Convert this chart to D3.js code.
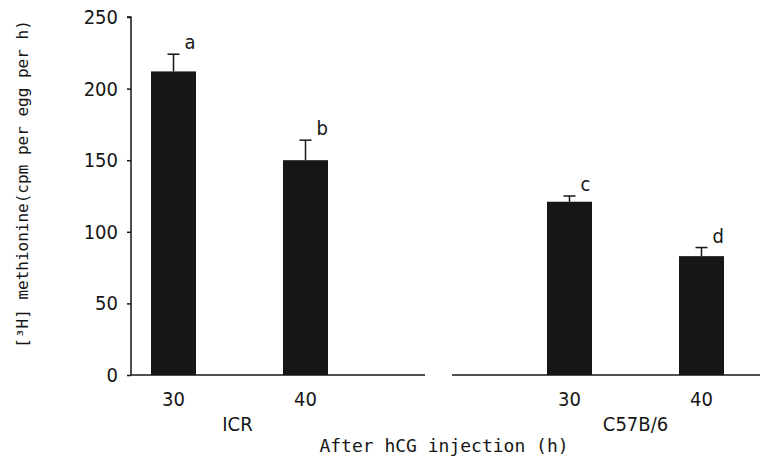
<!DOCTYPE html>
<html>
<head>
<meta charset="utf-8">
<script src="https://cdn.jsdelivr.net/npm/d3@7"></script>
<style>
  body { margin: 0; background: #fff; }
  svg { display: block; }
</style>
</head>
<body>
<div id="chart"></div>
<script>
const kWidth = 761;
const kHeight = 462;

// data
const strains = ["ICR", "ICR", "C57B/6", "C57B/6"];
const hours = ["30", "40", "30", "40"];
const means = [212, 150, 121, 83];
const errors = [12, 14, 4, 6];
const letters = ["a", "b", "c", "d"];
const slots = ["ICR-30", "ICR-40", "gap", "C57-30", "C57-40"];
const barSlots = ["ICR-30", "ICR-40", "C57-30", "C57-40"];
const yTicks = [0, 50, 100, 150, 200, 250];

const svg = d3.select("#chart")
  .append("svg")
  .attr("width", kWidth)
  .attr("height", kHeight);

const x = d3.scalePoint()
  .domain(slots)
  .range([173.5, 701.5]);

const y = d3.scaleLinear()
  .domain([0, 250])
  .range([375, 17]);

const barW = 45;
const ink = "#161616";
const tickFont = "'DejaVu Sans Condensed', 'DejaVu Sans', sans-serif";
const monoFont = "'DejaVu Sans Mono', 'Liberation Mono', monospace";

// y axis
const yAxis = d3.axisLeft(y)
  .tickValues(yTicks)
  .tickSize(4)
  .tickPadding(9);

const gy = svg.append("g")
  .attr("transform", "translate(131,0)")
  .call(yAxis);
gy.select(".domain").attr("stroke", ink).attr("stroke-width", 1.5)
  .attr("d", `M-4,${y(250)}H0V${y(0)}`);
gy.selectAll(".tick line").attr("stroke", ink).attr("stroke-width", 1.5);
gy.selectAll(".tick text")
  .attr("fill", ink)
  .style("font-family", tickFont)
  .style("font-stretch", "condensed")
  .style("font-size", "20px");

// baseline, broken between the two strains
const baseSegs = [[131, 425], [452, 760]];
svg.selectAll("line.base")
  .data(baseSegs)
  .enter()
  .append("line")
  .attr("class", "base")
  .attr("x1", d => d[0])
  .attr("x2", d => d[1])
  .attr("y1", y(0))
  .attr("y2", y(0))
  .attr("stroke", ink)
  .attr("stroke-width", 1.5);

// bars
svg.selectAll("rect.bar")
  .data(means)
  .enter()
  .append("rect")
  .attr("class", "bar")
  .attr("x", (d, i) => x(barSlots[i]) - barW / 2)
  .attr("y", d => y(d))
  .attr("width", barW)
  .attr("height", d => y(0) - y(d))
  .attr("fill", ink);

// error bars (upper only)
const eb = svg.selectAll("g.err")
  .data(means)
  .enter()
  .append("g")
  .attr("class", "err")
  .attr("stroke", ink)
  .attr("stroke-width", 1.5);
eb.append("line")
  .attr("x1", (d, i) => x(barSlots[i]))
  .attr("x2", (d, i) => x(barSlots[i]))
  .attr("y1", d => y(d))
  .attr("y2", (d, i) => y(d + errors[i]));
eb.append("line")
  .attr("x1", (d, i) => x(barSlots[i]) - 6)
  .attr("x2", (d, i) => x(barSlots[i]) + 6)
  .attr("y1", (d, i) => y(d + errors[i]))
  .attr("y2", (d, i) => y(d + errors[i]));

// significance letters
svg.selectAll("text.letter")
  .data(letters)
  .enter()
  .append("text")
  .attr("class", "letter")
  .attr("x", (d, i) => x(barSlots[i]) + 11)
  .attr("y", (d, i) => y(means[i] + errors[i]) - 5)
  .attr("fill", ink)
  .style("font-family", tickFont)
  .style("font-stretch", "condensed")
  .style("font-size", "20px")
  .text(d => d);

// hour labels
svg.selectAll("text.hour")
  .data(hours)
  .enter()
  .append("text")
  .attr("class", "hour")
  .attr("x", (d, i) => x(barSlots[i]))
  .attr("y", 406)
  .attr("text-anchor", "middle")
  .attr("fill", ink)
  .style("font-family", tickFont)
  .style("font-stretch", "condensed")
  .style("font-size", "20px")
  .text(d => d);

// strain labels, centred under each pair
const strainNames = ["ICR", "C57B/6"];
const strainPos = [
  (x("ICR-30") + x("ICR-40")) / 2 - 2,
  (x("C57-30") + x("C57-40")) / 2
];
svg.selectAll("text.strain")
  .data(strainNames)
  .enter()
  .append("text")
  .attr("class", "strain")
  .attr("x", (d, i) => strainPos[i])
  .attr("y", 431)
  .attr("text-anchor", "middle")
  .attr("fill", ink)
  .style("font-family", tickFont)
  .style("font-stretch", "condensed")
  .style("font-size", "20px")
  .text(d => d);

// axis titles
svg.append("text")
  .attr("x", 444)
  .attr("y", 452)
  .attr("text-anchor", "middle")
  .attr("fill", ink)
  .style("font-family", monoFont)
  .style("font-size", "18px")
  .text("After hCG injection (h)");

svg.append("text")
  .attr("transform", "translate(28,184) rotate(-90)")
  .attr("text-anchor", "middle")
  .attr("fill", ink)
  .style("font-family", monoFont)
  .style("font-size", "16px")
  .text("[³H] methionine(cpm per egg per h)");
</script>
</body>
</html>
